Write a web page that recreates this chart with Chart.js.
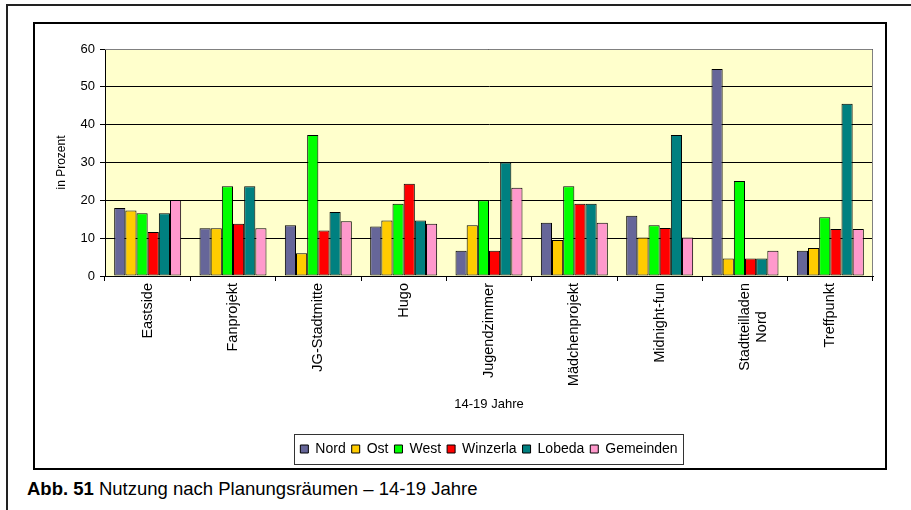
<!DOCTYPE html>
<html><head><meta charset="utf-8">
<script src="https://cdn.jsdelivr.net/npm/chart.js@4/dist/chart.umd.min.js"></script>
<style>
html,body{margin:0;padding:0;background:#fff;width:911px;height:510px;overflow:hidden;font-family:"Liberation Sans",Arial,sans-serif;}
#outer{position:absolute;left:6px;top:4px;width:1000px;height:1000px;border-left:2px solid #222;border-top:2px solid #222;}
#frame{position:absolute;left:33px;top:22px;width:854px;height:448px;box-sizing:border-box;border:2px solid #000;}
#c{position:absolute;left:35px;top:24px;}
#caption{position:absolute;left:27px;top:479px;font-size:18.5px;line-height:20px;color:#000;white-space:nowrap;}
</style></head>
<body>
<div id="outer"></div>
<div id="frame"></div>
<canvas id="c" width="850" height="444"></canvas>
<div id="caption"><b>Abb. 51</b> Nutzung nach Planungsräumen – 14-19 Jahre</div>
<script>
const categories = ['Eastside','Fanprojekt','JG-Stadtmitte','Hugo','Jugendzimmer','Mädchenprojekt','Midnight-fun','Stadtteilladen Nord','Treffpunkt'];
const seriesNames = ['Nord','Ost','West','Winzerla','Lobeda','Gemeinden'];
const nord      = [18.0, 12.6, 13.4, 13.1, 6.7, 14.1, 15.9, 54.7, 6.7];
const ost       = [17.3, 12.6, 6.0, 14.7, 13.4, 9.5, 10.2, 4.6, 7.4];
const west      = [16.6, 23.7, 37.3, 19.1, 20.0, 23.7, 13.4, 25.1, 15.5];
const winzerla  = [11.6, 13.8, 12.0, 24.4, 6.7, 19.1, 12.7, 4.6, 12.4];
const lobeda    = [16.6, 23.7, 16.9, 14.7, 30.0, 19.1, 37.3, 4.6, 45.5];
const gemeinden = [20.1, 12.6, 14.5, 13.8, 23.3, 14.1, 10.2, 6.7, 12.4];
const yTicks = [0, 10, 20, 30, 40, 50, 60];
const xTitle = '14-19 Jahre';
const yTitle = 'in Prozent';

const colors = ['#666699','#FFCC00','#00FF00','#FF0000','#008080','#FF99CC'];
const values = [nord, ost, west, winzerla, lobeda, gemeinden];
const FONT = '"Liberation Sans", Arial, sans-serif';

const bgPlugin = {
  id: 'bg',
  afterLayout(chart) {
    const lg = chart.legend, a = chart.chartArea;
    if (lg) {
      const shift = (a.left + a.right) / 2 - (lg.left + lg.right) / 2;
      lg.left += shift; lg.right += shift;
    }
  },
  beforeDraw(chart) {
    const a = chart.chartArea, ctx = chart.ctx;
    ctx.save();
    ctx.fillStyle = '#FFFFCC';
    ctx.fillRect(a.left, a.top, a.right - a.left, a.bottom - a.top);
    ctx.restore();
  },
  afterDraw(chart) {
    const a = chart.chartArea, ctx = chart.ctx;
    ctx.save();
    ctx.strokeStyle = '#808080';
    ctx.lineWidth = 1;
    ctx.beginPath();
    ctx.moveTo(a.left, a.top + 0.5);
    ctx.lineTo(a.right - 0.5, a.top + 0.5);
    ctx.lineTo(a.right - 0.5, a.bottom);
    ctx.stroke();
    const lg = chart.legend;
    if (lg && lg.legendHitBoxes && lg.legendHitBoxes.length) {
      const hb = lg.legendHitBoxes;
      let l = Infinity, r = -Infinity, t = Infinity, b = -Infinity;
      hb.forEach(h => { l = Math.min(l, h.left); r = Math.max(r, h.left + h.width); t = Math.min(t, h.top); b = Math.max(b, h.top + h.height); });
      const cy = (t + b) / 2;
      ctx.strokeStyle = '#333';
      ctx.lineWidth = 1;
      ctx.strokeRect(Math.round(l - 6) + 0.5, Math.round(cy - 15) + 0.5, Math.round(r - l + 12), 30);
    }
    ctx.restore();
  }
};

new Chart(document.getElementById('c'), {
  type: 'bar',
  data: {
    labels: categories,
    datasets: seriesNames.map((n, i) => ({
      label: n,
      data: values[i],
      backgroundColor: colors[i],
      borderColor: '#000',
      borderWidth: 1,
      borderSkipped: false,
      categoryPercentage: 0.785,
      barPercentage: 1.0
    }))
  },
  options: {
    responsive: false,
    animation: false,
    devicePixelRatio: 1,
    layout: { padding: { left: 0, right: 12, top: 25, bottom: 2 } },
    plugins: {
      tooltip: { enabled: false },
      legend: {
        position: 'bottom',
        labels: {
          boxWidth: 8, boxHeight: 8, padding: 6,
          color: '#000',
          font: { family: FONT, size: 14 }
        }
      }
    },
    scales: {
      x: {
        afterFit(s) { s.height = 160; },
        grid: { display: true, drawOnChartArea: false, drawTicks: true, tickLength: 5, color: '#000', offset: true },
        border: { display: true, color: '#000', width: 1 },
        ticks: {
          minRotation: 90, maxRotation: 90, padding: 2, color: '#000', autoSkip: false,
          font: { family: FONT, size: 14.5 },
          callback(v, i) {
            const t = categories[i];
            if (t === 'Stadtteilladen Nord') return ['Stadtteilladen', 'Nord\u00a0\u00a0\u00a0\u00a0\u00a0\u00a0\u00a0'];
            return t;
          }
        },
        title: { display: true, text: xTitle, color: '#000', padding: { top: 0, bottom: 24 },
          font: { family: FONT, size: 13 } }
      },
      y: {
        min: 0, max: 60,
        afterFit(s) { s.width = 70; },
        afterBuildTicks(s) { s.ticks = yTicks.map(v => ({ value: v })); },
        grid: { color: '#000', lineWidth: 1, drawTicks: true, tickLength: 5 },
        border: { display: true, color: '#000', width: 1 },
        ticks: { padding: 5, color: '#000', font: { family: FONT, size: 13 } },
        title: { display: true, text: yTitle, color: '#000', padding: { top: 19, bottom: 0 },
          font: { family: FONT, size: 12 } }
      }
    }
  },
  plugins: [bgPlugin]
});
</script>
</body></html>
